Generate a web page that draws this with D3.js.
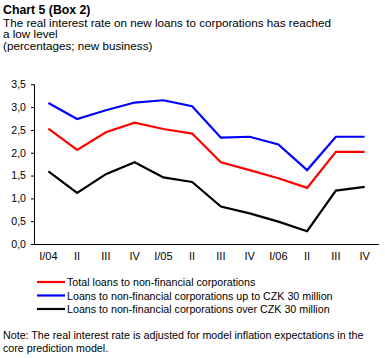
<!DOCTYPE html>
<html><head><meta charset="utf-8">
<script src="https://cdn.jsdelivr.net/npm/d3@7"></script>
<style>body{margin:0;background:#fff}svg{display:block}text{font-family:"Liberation Sans",Arial,sans-serif;font-size:11px;fill:#000}</style>
</head><body>
<script>
const categories = ["I/04","II","III","IV","I/05","II","III","IV","I/06","II","III","IV"];
const totalLoans = [2.53,2.06,2.45,2.66,2.52,2.42,1.79,1.62,1.44,1.23,2.02,2.02];
const upTo30 = [3.09,2.74,2.93,3.10,3.15,3.02,2.33,2.35,2.18,1.62,2.35,2.35];
const over30 = [1.59,1.12,1.53,1.79,1.46,1.36,0.82,0.67,0.49,0.28,1.17,1.25];
const yTicks = [0,0.5,1,1.5,2,2.5,3,3.5];
const seriesNames = ["Total loans to non-financial corporations","Loans to non-financial corporations up to CZK 30 million","Loans to non-financial corporations over CZK 30 million"];
const titleLines = ["The real interest rate on new loans to corporations has reached","a low level","(percentages; new business)"];
const noteLines = ["Note: The real interest rate is adjusted for model inflation expectations in the","core prediction model."];

const W=385,H=358;
const svg=d3.select("body").append("svg").attr("width",W).attr("height",H);
svg.append("text").attr("x",3).attr("y",14).style("font-weight","bold").style("font-size","12.3px").text("Chart 5 (Box 2)");
titleLines.forEach((t,i)=>svg.append("text").attr("x",3).attr("y",26.5+i*11.5).style("font-size","11.7px").text(t));

const x=d3.scaleBand().domain(d3.range(categories.length)).range([34,379]);
const y=d3.scaleLinear().domain([0,3.5]).range([244,84.3]);

const yAxis=d3.axisLeft(y).tickValues(yTicks).tickSize(3).tickPadding(5).tickFormat(d=>d3.format(".1f")(d).replace(".",","));
const gy=svg.append("g").attr("transform","translate(34,0)").call(yAxis);
gy.select(".domain").attr("d","M0.5,"+y(3.5)+"V"+y(0));
gy.selectAll("line").attr("stroke","#000");
gy.selectAll("text").style("font-size","10.6px");
const xAxis=d3.axisBottom(x).tickSize(0).tickPadding(8).tickFormat(i=>categories[i]);
const gx=svg.append("g").attr("transform","translate(0,244.5)").call(xAxis);
gx.select(".domain").attr("d","M34,0H379");
gx.selectAll("text").style("font-size","11px");
svg.selectAll(".domain").attr("stroke","#000");

const line=d3.line().x((d,i)=>x(i)+x.bandwidth()/2).y(d=>y(d));
const series=[[totalLoans,"#ff0000"],[upTo30,"#0000ff"],[over30,"#000000"]];
series.forEach(([data,c])=>svg.append("path").datum(data).attr("d",line).attr("fill","none").attr("stroke",c).attr("stroke-width",2.2));

series.forEach(([data,c],i)=>{
  const ly=282+i*13.5;
  svg.append("line").attr("x1",37).attr("x2",65).attr("y1",ly).attr("y2",ly).attr("stroke",c).attr("stroke-width",2.2);
  svg.append("text").attr("x",67).attr("y",ly+4).style("font-size","10.7px").text(seriesNames[i]);
});
noteLines.forEach((t,i)=>svg.append("text").attr("x",3).attr("y",339+i*12.5).style("font-size","10.7px").text(t));
</script>
</body></html>
